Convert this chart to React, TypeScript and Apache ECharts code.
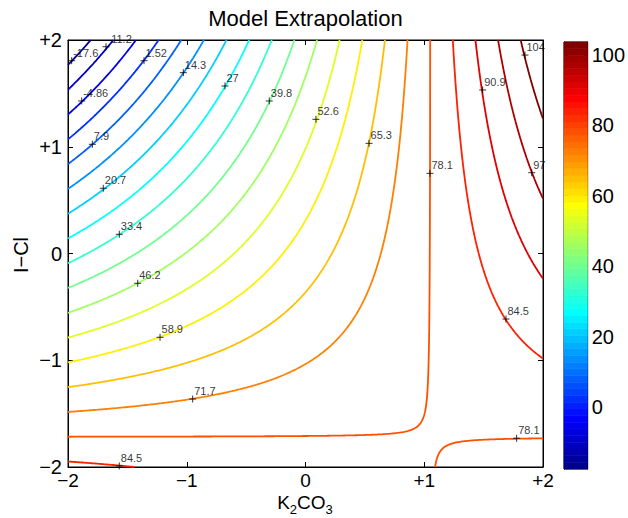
import React, { useEffect, useRef } from "react";
import * as echarts from "echarts";

const FONT = "Liberation Sans, Arial, Helvetica, sans-serif";

// Response surface samples (rows: y = -2..2, cols: x = -2..2)
const X_GRID = [-2, -1, 0, 1, 2];
const Y_GRID = [-2, -1, 0, 1, 2];
const Z_GRID = [
  [85.89, 83.37, 80.85, 78.33, 75.81],
  [58.42, 64.9, 71.38, 77.86, 84.34],
  [30.94, 46.42, 61.9, 77.38, 92.86],
  [3.46, 27.94, 52.42, 76.9, 101.38],
  [-24.01, 9.47, 42.95, 76.43, 109.91],
];

// Contour levels
const LEVELS = [
  -17.6, -11.22, -4.84, 1.54, 7.92, 14.3, 20.68, 27.06, 33.44, 39.82, 46.2,
  52.58, 58.96, 65.34, 71.72, 78.1, 84.48, 90.86, 97.24, 103.62,
];

// Contour labels ("+" marks)
const LABEL_X = [
  -1.969, -1.68, -1.36, -1.885, -1.029, -0.678, -0.305, -1.795, 0.088, 0.535,
  1.492, 1.848, 1.048, 1.905, -1.703, -1.568, -1.413, -1.225, 1.688, 1.778,
  -0.95, -1.568,
];
const LABEL_Y = [
  1.806, 1.937, 1.806, 1.429, 1.694, 1.569, 1.429, 1.023, 1.257, 1.032, 1.532,
  1.859, 0.751, 0.757, 0.611, 0.18, -0.279, -0.785, -0.614, -1.731, -1.363,
  -1.99,
];
const LABEL_TEXT = [
  "-17.6", "-11.2", "1.52", "-4.86", "14.3", "27", "39.8", "7.9", "52.6",
  "65.3", "90.9", "104", "78.1", "97", "20.7", "33.4", "46.2", "58.9", "84.5",
  "78.1", "71.7", "84.5",
];

const COLORBAR_TICKS = [0, 20, 40, 60, 80, 100];
const CMIN = -17.6;
const CMAX = 103.62;
const NCOLORS = 64;

function jet64(i: number): string {
  let r = 0, g = 0, b = 0;
  if (i <= 8) b = (i + 8) / 16;
  else if (i <= 23) b = 1;
  else if (i <= 39) b = (40 - i) / 16;
  if (i >= 9 && i <= 24) g = (i - 8) / 16;
  else if (i >= 25 && i <= 39) g = 1;
  else if (i >= 40 && i <= 55) g = (56 - i) / 16;
  if (i >= 25 && i <= 40) r = (i - 24) / 16;
  else if (i >= 41 && i <= 55) r = 1;
  else if (i >= 56) r = (72 - i) / 16;
  const h = (v: number) => Math.round(v * 255);
  return `rgb(${h(r)},${h(g)},${h(b)})`;
}

function levelColor(L: number): string {
  const idx = Math.min(NCOLORS, Math.max(1, Math.floor(((L - CMIN) / (CMAX - CMIN)) * NCOLORS) + 1));
  return jet64(idx);
}

function sampleZ(x: number, y: number): number {
  const nx = X_GRID.length, ny = Y_GRID.length;
  let ix = 0;
  while (ix < nx - 2 && x > X_GRID[ix + 1]) ix++;
  let iy = 0;
  while (iy < ny - 2 && y > Y_GRID[iy + 1]) iy++;
  const u = (x - X_GRID[ix]) / (X_GRID[ix + 1] - X_GRID[ix]);
  const v = (y - Y_GRID[iy]) / (Y_GRID[iy + 1] - Y_GRID[iy]);
  const a = Z_GRID[iy][ix], b = Z_GRID[iy][ix + 1];
  const c = Z_GRID[iy + 1][ix + 1], d = Z_GRID[iy + 1][ix];
  return a * (1 - u) * (1 - v) + b * u * (1 - v) + c * u * v + d * (1 - u) * v;
}

const RES = 400;

function buildField() {
  const n1 = RES + 1;
  const x0 = X_GRID[0], x1 = X_GRID[X_GRID.length - 1];
  const y0 = Y_GRID[0], y1 = Y_GRID[Y_GRID.length - 1];
  const xs = new Float64Array(n1), ys = new Float64Array(n1);
  for (let i = 0; i < n1; i++) {
    xs[i] = x0 + ((x1 - x0) * i) / RES;
    ys[i] = y0 + ((y1 - y0) * i) / RES;
  }
  const F = new Float64Array(n1 * n1);
  for (let j = 0; j < n1; j++) for (let i = 0; i < n1; i++) F[j * n1 + i] = sampleZ(xs[i], ys[j]);
  return { xs, ys, F, n1 };
}

function contourLines(field: any, L: number): number[][][] {
  const { xs, ys, F, n1 } = field;
  const N = n1 - 1;
  const segs: number[] = [];
  const hKey = (i: number, j: number) => (j * n1 + i) * 2;
  const vKey = (i: number, j: number) => (j * n1 + i) * 2 + 1;
  for (let j = 0; j < N; j++) {
    for (let i = 0; i < N; i++) {
      const a = F[j * n1 + i], b = F[j * n1 + i + 1];
      const c = F[(j + 1) * n1 + i + 1], d = F[(j + 1) * n1 + i];
      const code = (a >= L ? 1 : 0) | (b >= L ? 2 : 0) | (c >= L ? 4 : 0) | (d >= L ? 8 : 0);
      if (code === 0 || code === 15) continue;
      const B = hKey(i, j), R = vKey(i + 1, j), T = hKey(i, j + 1), Lf = vKey(i, j);
      if (code === 5 || code === 10) {
        const ctr = (a + b + c + d) / 4 >= L;
        const isolateAC = (code === 5) !== ctr;
        if (isolateAC) { segs.push(Lf, B, R, T); } else { segs.push(B, R, T, Lf); }
        continue;
      }
      const e: number[] = [];
      if (((code & 1) > 0) !== ((code & 2) > 0)) e.push(B);
      if (((code & 2) > 0) !== ((code & 4) > 0)) e.push(R);
      if (((code & 4) > 0) !== ((code & 8) > 0)) e.push(T);
      if (((code & 8) > 0) !== ((code & 1) > 0)) e.push(Lf);
      if (e.length === 2) segs.push(e[0], e[1]);
    }
  }
  const pt = (key: number): number[] => {
    const idx = key >> 1, isV = key & 1;
    const i = idx % n1, j = (idx - i) / n1;
    const a = F[j * n1 + i];
    if (!isV) {
      const b = F[j * n1 + i + 1];
      const t = (L - a) / (b - a);
      return [xs[i] + t * (xs[i + 1] - xs[i]), ys[j]];
    }
    const b = F[(j + 1) * n1 + i];
    const t = (L - a) / (b - a);
    return [xs[i], ys[j] + t * (ys[j + 1] - ys[j])];
  };
  const nSeg = segs.length / 2;
  const adj = new Map<number, number[]>();
  for (let s = 0; s < nSeg; s++) {
    for (let k = 0; k < 2; k++) {
      const key = segs[s * 2 + k];
      const l = adj.get(key);
      if (l) l.push(s); else adj.set(key, [s]);
    }
  }
  const used = new Uint8Array(nSeg);
  const lines: number[][][] = [];
  const walk = (start: number, startKey: number) => {
    const line = [pt(startKey)];
    let s = start, key = startKey;
    while (s >= 0 && !used[s]) {
      used[s] = 1;
      const next = segs[s * 2] === key ? segs[s * 2 + 1] : segs[s * 2];
      line.push(pt(next));
      key = next;
      const cand = (adj.get(next) || []).find((n) => !used[n]);
      s = cand === undefined ? -1 : cand;
    }
    return line;
  };
  adj.forEach((list, key) => {
    if (list.length === 1 && !used[list[0]]) lines.push(walk(list[0], key));
  });
  for (let s = 0; s < nSeg; s++) if (!used[s]) lines.push(walk(s, segs[s * 2]));
  return lines;
}

const fmtTick = (v: number) => (v > 0 ? "+" + v : v < 0 ? "\u2212" + Math.abs(v) : "0");

export default function App() {
  const ref = useRef<HTMLDivElement>(null);
  useEffect(() => {
    if (!ref.current) return;
    const chart = echarts.init(ref.current, null, { renderer: "svg" });
    const field = buildField();
    const series: any[] = [];
    LEVELS.forEach((L) => {
      const color = levelColor(L);
      contourLines(field, L).forEach((poly) => {
        series.push({
          type: "line",
          xAxisIndex: 0,
          yAxisIndex: 0,
          data: poly,
          showSymbol: false,
          symbol: "none",
          silent: true,
          lineStyle: { color, width: 1.8 },
          z: 2,
        });
      });
    });
    series.push({
      type: "scatter",
      xAxisIndex: 0,
      yAxisIndex: 0,
      data: LABEL_X.map((x, i) => ({ value: [x, LABEL_Y[i]], name: LABEL_TEXT[i] })),
      symbol: "path://M5,0L5,10M0,5L10,5",
      symbolSize: 7,
      itemStyle: { color: "transparent", borderColor: "#000", borderWidth: 1 },
      label: {
        show: true,
        formatter: "{b}",
        position: [5.5, 1.5],
        align: "left",
        verticalAlign: "bottom",
        fontSize: 11,
        fontFamily: FONT,
        color: "#000",
        textBorderWidth: 0,
        textBorderColor: "transparent",
      },
      clip: false,
      silent: true,
      z: 5,
    });
    const bandStep = (CMAX - CMIN) / NCOLORS;
    series.push({
      type: "custom",
      xAxisIndex: 2,
      yAxisIndex: 2,
      silent: true,
      data: Array.from({ length: NCOLORS }, (_, i) => [i]),
      renderItem: (params: any, api: any) => {
        const i = api.value(0);
        const p0 = api.coord([0, CMIN + i * bandStep]);
        const p1 = api.coord([1, CMIN + (i + 1) * bandStep]);
        const col = jet64(i + 1);
        return {
          type: "rect",
          shape: { x: p0[0], y: p1[1], width: p1[0] - p0[0], height: p0[1] - p1[1] },
          style: { fill: col, stroke: col, lineWidth: 0.6 },
        };
      },
      z: 1,
    });

    const tickStyle = { inside: true, length: 5, lineStyle: { color: "#000", width: 1 } };
    const lineStyle = { show: true, onZero: false, lineStyle: { color: "#000", width: 1 } };
    const labelStyle = { fontSize: 20, fontFamily: FONT, color: "#000", lineHeight: 16 };

    chart.setOption({
      animation: false,
      backgroundColor: "#fff",
      grid: [
        { left: 68, top: 40, width: 475, height: 427, show: true, borderColor: "#000", borderWidth: 1, backgroundColor: "#fff" },
        { left: 564, top: 42, width: 24, height: 427, show: true, borderColor: "#000", borderWidth: 1 },
      ],
      xAxis: [
        {
          gridIndex: 0, type: "value", min: -2, max: 2, interval: 1, position: "bottom",
          axisLine: lineStyle, axisTick: tickStyle, splitLine: { show: false },
          axisLabel: { ...labelStyle, fontSize: 19, lineHeight: 15, margin: 6, formatter: fmtTick },
        },
        {
          gridIndex: 0, type: "value", min: -2, max: 2, interval: 1, position: "top",
          axisLine: lineStyle, axisTick: tickStyle, splitLine: { show: false },
          axisLabel: { show: false },
        },
        { gridIndex: 1, type: "value", min: 0, max: 1, show: false },
      ],
      yAxis: [
        {
          gridIndex: 0, type: "value", min: -2, max: 2, interval: 1, position: "left",
          axisLine: lineStyle, axisTick: tickStyle, splitLine: { show: false },
          axisLabel: { ...labelStyle, margin: 6, formatter: fmtTick },
        },
        {
          gridIndex: 0, type: "value", min: -2, max: 2, interval: 1, position: "right",
          axisLine: lineStyle, axisTick: tickStyle, splitLine: { show: false },
          axisLabel: { show: false },
        },
        {
          gridIndex: 1, type: "value", min: CMIN, max: CMAX, position: "left",
          axisLine: lineStyle, splitLine: { show: false },
          axisTick: { ...tickStyle, length: 4, customValues: COLORBAR_TICKS },
          axisLabel: { show: false, customValues: COLORBAR_TICKS },
        },
        {
          gridIndex: 1, type: "value", min: CMIN, max: CMAX, position: "right",
          axisLine: lineStyle, splitLine: { show: false },
          axisTick: { ...tickStyle, length: 4, customValues: COLORBAR_TICKS },
          axisLabel: { ...labelStyle, margin: 4, customValues: COLORBAR_TICKS },
        },
      ],
      graphic: [
        {
          type: "text", x: 305.5, y: 18, z: 10,
          style: { text: "Model Extrapolation", fontSize: 22, fontFamily: FONT, fill: "#000", align: "center", verticalAlign: "middle" },
        },
        {
          type: "text", x: 21, y: 255, rotation: Math.PI / 2, z: 10,
          style: { text: "I\u2212Cl", fontSize: 20, fontFamily: FONT, fill: "#000", align: "center", verticalAlign: "middle" },
        },
        {
          type: "text", x: 305, y: 493, z: 10,
          style: {
            text: "{b|K}{s|2}{b|CO}{s|3}",
            align: "center",
            verticalAlign: "top",
            rich: {
              b: { fontSize: 19, fontFamily: FONT, fill: "#000", lineHeight: 19, verticalAlign: "top" },
              s: { fontSize: 13, fontFamily: FONT, fill: "#000", lineHeight: 13, padding: [14, 0, 0, 0] },
            },
          },
        },
      ],
      series,
    });
    return () => chart.dispose();
  }, []);
  return <div ref={ref} style={{ position: "absolute", left: 0, top: 0, width: 628, height: 518, background: "#fff" }} />;
}
